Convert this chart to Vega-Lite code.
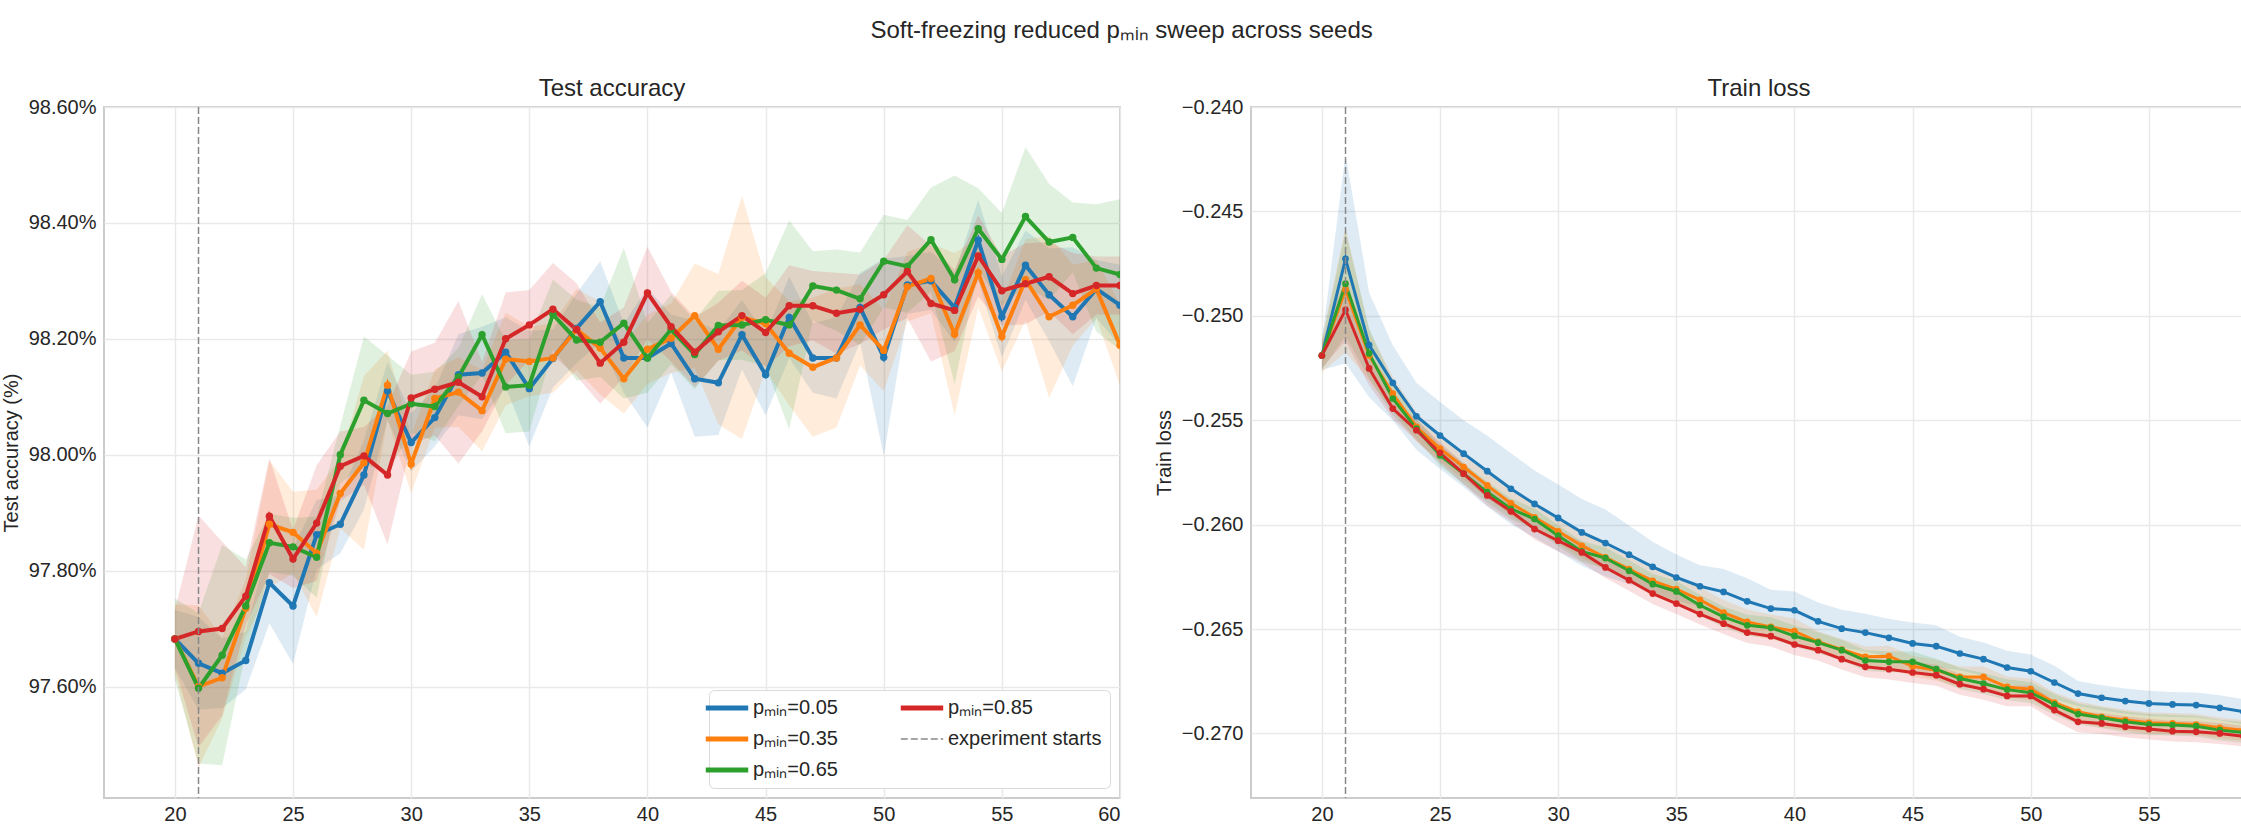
{
  "$schema": "https://vega.github.io/schema/vega-lite/v6.json",
  "background": "white",
  "padding": {"left": 0, "top": 19, "right": 0, "bottom": 0},
  "title": {"text": "Soft-freezing reduced pₘᵢₙ sweep across seeds", "anchor": "middle", "frame": "bounds", "baseline": "alphabetic", "offset": 14, "fontSize": 24},
  "spacing": 131,
  "bounds": "flush",
  "resolve": {"scale": {"color": "independent", "fill": "independent"}, "legend": {"color": "independent", "fill": "independent"}},
  "datasets": {
    "acc": [
      {"s":"0.05","e":20,"m":97.682,"lo":97.632,"hi":97.732},
      {"s":"0.05","e":21,"m":97.640,"lo":97.560,"hi":97.720},
      {"s":"0.05","e":22,"m":97.623,"lo":97.563,"hi":97.683},
      {"s":"0.05","e":23,"m":97.645,"lo":97.595,"hi":97.695},
      {"s":"0.05","e":24,"m":97.779,"lo":97.709,"hi":97.849},
      {"s":"0.05","e":25,"m":97.739,"lo":97.639,"hi":97.839},
      {"s":"0.05","e":26,"m":97.862,"lo":97.802,"hi":97.922},
      {"s":"0.05","e":27,"m":97.880,"lo":97.830,"hi":97.930},
      {"s":"0.05","e":28,"m":97.965,"lo":97.905,"hi":98.025},
      {"s":"0.05","e":29,"m":98.110,"lo":98.060,"hi":98.160},
      {"s":"0.05","e":30,"m":98.021,"lo":97.971,"hi":98.071},
      {"s":"0.05","e":31,"m":98.064,"lo":98.014,"hi":98.114},
      {"s":"0.05","e":32,"m":98.138,"lo":98.068,"hi":98.208},
      {"s":"0.05","e":33,"m":98.141,"lo":98.061,"hi":98.221},
      {"s":"0.05","e":34,"m":98.177,"lo":98.117,"hi":98.237},
      {"s":"0.05","e":35,"m":98.114,"lo":98.014,"hi":98.214},
      {"s":"0.05","e":36,"m":98.166,"lo":98.116,"hi":98.216},
      {"s":"0.05","e":37,"m":98.218,"lo":98.158,"hi":98.278},
      {"s":"0.05","e":38,"m":98.264,"lo":98.194,"hi":98.334},
      {"s":"0.05","e":39,"m":98.167,"lo":98.107,"hi":98.227},
      {"s":"0.05","e":40,"m":98.167,"lo":98.047,"hi":98.287},
      {"s":"0.05","e":41,"m":98.192,"lo":98.142,"hi":98.242},
      {"s":"0.05","e":42,"m":98.131,"lo":98.031,"hi":98.231},
      {"s":"0.05","e":43,"m":98.124,"lo":98.034,"hi":98.214},
      {"s":"0.05","e":44,"m":98.207,"lo":98.147,"hi":98.267},
      {"s":"0.05","e":45,"m":98.138,"lo":98.068,"hi":98.208},
      {"s":"0.05","e":46,"m":98.237,"lo":98.167,"hi":98.307},
      {"s":"0.05","e":47,"m":98.167,"lo":98.107,"hi":98.227},
      {"s":"0.05","e":48,"m":98.167,"lo":98.097,"hi":98.237},
      {"s":"0.05","e":49,"m":98.254,"lo":98.194,"hi":98.314},
      {"s":"0.05","e":50,"m":98.168,"lo":97.998,"hi":98.338},
      {"s":"0.05","e":51,"m":98.293,"lo":98.243,"hi":98.343},
      {"s":"0.05","e":52,"m":98.300,"lo":98.250,"hi":98.350},
      {"s":"0.05","e":53,"m":98.254,"lo":98.194,"hi":98.314},
      {"s":"0.05","e":54,"m":98.370,"lo":98.300,"hi":98.440},
      {"s":"0.05","e":55,"m":98.238,"lo":98.168,"hi":98.308},
      {"s":"0.05","e":56,"m":98.327,"lo":98.267,"hi":98.387},
      {"s":"0.05","e":57,"m":98.276,"lo":98.196,"hi":98.356},
      {"s":"0.05","e":58,"m":98.238,"lo":98.118,"hi":98.358},
      {"s":"0.05","e":59,"m":98.286,"lo":98.236,"hi":98.336},
      {"s":"0.05","e":60,"m":98.258,"lo":98.188,"hi":98.328},
      {"s":"0.35","e":20,"m":97.682,"lo":97.622,"hi":97.742},
      {"s":"0.35","e":21,"m":97.600,"lo":97.460,"hi":97.740},
      {"s":"0.35","e":22,"m":97.615,"lo":97.545,"hi":97.685},
      {"s":"0.35","e":23,"m":97.735,"lo":97.685,"hi":97.785},
      {"s":"0.35","e":24,"m":97.880,"lo":97.770,"hi":97.990},
      {"s":"0.35","e":25,"m":97.866,"lo":97.796,"hi":97.936},
      {"s":"0.35","e":26,"m":97.830,"lo":97.720,"hi":97.940},
      {"s":"0.35","e":27,"m":97.933,"lo":97.873,"hi":97.993},
      {"s":"0.35","e":28,"m":97.986,"lo":97.836,"hi":98.136},
      {"s":"0.35","e":29,"m":98.120,"lo":98.060,"hi":98.180},
      {"s":"0.35","e":30,"m":97.984,"lo":97.934,"hi":98.034},
      {"s":"0.35","e":31,"m":98.097,"lo":98.047,"hi":98.147},
      {"s":"0.35","e":32,"m":98.108,"lo":98.048,"hi":98.168},
      {"s":"0.35","e":33,"m":98.076,"lo":98.006,"hi":98.146},
      {"s":"0.35","e":34,"m":98.165,"lo":98.085,"hi":98.245},
      {"s":"0.35","e":35,"m":98.161,"lo":98.101,"hi":98.221},
      {"s":"0.35","e":36,"m":98.167,"lo":98.107,"hi":98.227},
      {"s":"0.35","e":37,"m":98.216,"lo":98.146,"hi":98.286},
      {"s":"0.35","e":38,"m":98.184,"lo":98.104,"hi":98.264},
      {"s":"0.35","e":39,"m":98.131,"lo":98.071,"hi":98.191},
      {"s":"0.35","e":40,"m":98.182,"lo":98.122,"hi":98.242},
      {"s":"0.35","e":41,"m":98.201,"lo":98.141,"hi":98.261},
      {"s":"0.35","e":42,"m":98.240,"lo":98.150,"hi":98.330},
      {"s":"0.35","e":43,"m":98.182,"lo":98.052,"hi":98.312},
      {"s":"0.35","e":44,"m":98.237,"lo":98.027,"hi":98.447},
      {"s":"0.35","e":45,"m":98.226,"lo":98.146,"hi":98.306},
      {"s":"0.35","e":46,"m":98.175,"lo":98.085,"hi":98.265},
      {"s":"0.35","e":47,"m":98.151,"lo":98.031,"hi":98.271},
      {"s":"0.35","e":48,"m":98.167,"lo":98.047,"hi":98.287},
      {"s":"0.35","e":49,"m":98.224,"lo":98.154,"hi":98.294},
      {"s":"0.35","e":50,"m":98.180,"lo":98.110,"hi":98.250},
      {"s":"0.35","e":51,"m":98.290,"lo":98.230,"hi":98.350},
      {"s":"0.35","e":52,"m":98.304,"lo":98.244,"hi":98.364},
      {"s":"0.35","e":53,"m":98.208,"lo":98.068,"hi":98.348},
      {"s":"0.35","e":54,"m":98.314,"lo":98.254,"hi":98.374},
      {"s":"0.35","e":55,"m":98.204,"lo":98.144,"hi":98.264},
      {"s":"0.35","e":56,"m":98.302,"lo":98.232,"hi":98.372},
      {"s":"0.35","e":57,"m":98.238,"lo":98.098,"hi":98.378},
      {"s":"0.35","e":58,"m":98.258,"lo":98.188,"hi":98.328},
      {"s":"0.35","e":59,"m":98.286,"lo":98.236,"hi":98.336},
      {"s":"0.35","e":60,"m":98.189,"lo":98.119,"hi":98.259},
      {"s":"0.65","e":20,"m":97.682,"lo":97.612,"hi":97.752},
      {"s":"0.65","e":21,"m":97.597,"lo":97.467,"hi":97.727},
      {"s":"0.65","e":22,"m":97.654,"lo":97.464,"hi":97.844},
      {"s":"0.65","e":23,"m":97.739,"lo":97.659,"hi":97.819},
      {"s":"0.65","e":24,"m":97.848,"lo":97.798,"hi":97.898},
      {"s":"0.65","e":25,"m":97.841,"lo":97.791,"hi":97.891},
      {"s":"0.65","e":26,"m":97.823,"lo":97.753,"hi":97.893},
      {"s":"0.65","e":27,"m":98.000,"lo":97.950,"hi":98.050},
      {"s":"0.65","e":28,"m":98.094,"lo":97.984,"hi":98.204},
      {"s":"0.65","e":29,"m":98.071,"lo":97.971,"hi":98.171},
      {"s":"0.65","e":30,"m":98.088,"lo":98.038,"hi":98.138},
      {"s":"0.65","e":31,"m":98.083,"lo":98.023,"hi":98.143},
      {"s":"0.65","e":32,"m":98.134,"lo":98.084,"hi":98.184},
      {"s":"0.65","e":33,"m":98.207,"lo":98.137,"hi":98.277},
      {"s":"0.65","e":34,"m":98.117,"lo":98.037,"hi":98.197},
      {"s":"0.65","e":35,"m":98.120,"lo":98.040,"hi":98.200},
      {"s":"0.65","e":36,"m":98.242,"lo":98.182,"hi":98.302},
      {"s":"0.65","e":37,"m":98.198,"lo":98.128,"hi":98.268},
      {"s":"0.65","e":38,"m":98.194,"lo":98.134,"hi":98.254},
      {"s":"0.65","e":39,"m":98.227,"lo":98.097,"hi":98.357},
      {"s":"0.65","e":40,"m":98.167,"lo":98.107,"hi":98.227},
      {"s":"0.65","e":41,"m":98.216,"lo":98.156,"hi":98.276},
      {"s":"0.65","e":42,"m":98.173,"lo":98.113,"hi":98.233},
      {"s":"0.65","e":43,"m":98.223,"lo":98.163,"hi":98.283},
      {"s":"0.65","e":44,"m":98.224,"lo":98.164,"hi":98.284},
      {"s":"0.65","e":45,"m":98.233,"lo":98.153,"hi":98.313},
      {"s":"0.65","e":46,"m":98.224,"lo":98.044,"hi":98.404},
      {"s":"0.65","e":47,"m":98.291,"lo":98.231,"hi":98.351},
      {"s":"0.65","e":48,"m":98.284,"lo":98.214,"hi":98.354},
      {"s":"0.65","e":49,"m":98.269,"lo":98.189,"hi":98.349},
      {"s":"0.65","e":50,"m":98.334,"lo":98.254,"hi":98.414},
      {"s":"0.65","e":51,"m":98.325,"lo":98.245,"hi":98.405},
      {"s":"0.65","e":52,"m":98.371,"lo":98.281,"hi":98.461},
      {"s":"0.65","e":53,"m":98.302,"lo":98.122,"hi":98.482},
      {"s":"0.65","e":54,"m":98.390,"lo":98.320,"hi":98.460},
      {"s":"0.65","e":55,"m":98.337,"lo":98.257,"hi":98.417},
      {"s":"0.65","e":56,"m":98.411,"lo":98.291,"hi":98.531},
      {"s":"0.65","e":57,"m":98.367,"lo":98.267,"hi":98.467},
      {"s":"0.65","e":58,"m":98.375,"lo":98.315,"hi":98.435},
      {"s":"0.65","e":59,"m":98.322,"lo":98.212,"hi":98.432},
      {"s":"0.65","e":60,"m":98.311,"lo":98.181,"hi":98.441},
      {"s":"0.85","e":20,"m":97.682,"lo":97.632,"hi":97.732},
      {"s":"0.85","e":21,"m":97.695,"lo":97.495,"hi":97.895},
      {"s":"0.85","e":22,"m":97.700,"lo":97.550,"hi":97.850},
      {"s":"0.85","e":23,"m":97.756,"lo":97.706,"hi":97.806},
      {"s":"0.85","e":24,"m":97.894,"lo":97.794,"hi":97.994},
      {"s":"0.85","e":25,"m":97.820,"lo":97.770,"hi":97.870},
      {"s":"0.85","e":26,"m":97.882,"lo":97.782,"hi":97.982},
      {"s":"0.85","e":27,"m":97.980,"lo":97.920,"hi":98.040},
      {"s":"0.85","e":28,"m":97.998,"lo":97.948,"hi":98.048},
      {"s":"0.85","e":29,"m":97.965,"lo":97.845,"hi":98.085},
      {"s":"0.85","e":30,"m":98.098,"lo":98.018,"hi":98.178},
      {"s":"0.85","e":31,"m":98.113,"lo":98.033,"hi":98.193},
      {"s":"0.85","e":32,"m":98.125,"lo":97.985,"hi":98.265},
      {"s":"0.85","e":33,"m":98.100,"lo":98.040,"hi":98.160},
      {"s":"0.85","e":34,"m":98.200,"lo":98.120,"hi":98.280},
      {"s":"0.85","e":35,"m":98.224,"lo":98.164,"hi":98.284},
      {"s":"0.85","e":36,"m":98.251,"lo":98.171,"hi":98.331},
      {"s":"0.85","e":37,"m":98.216,"lo":98.136,"hi":98.296},
      {"s":"0.85","e":38,"m":98.158,"lo":98.088,"hi":98.228},
      {"s":"0.85","e":39,"m":98.194,"lo":98.134,"hi":98.254},
      {"s":"0.85","e":40,"m":98.279,"lo":98.199,"hi":98.359},
      {"s":"0.85","e":41,"m":98.221,"lo":98.161,"hi":98.281},
      {"s":"0.85","e":42,"m":98.177,"lo":98.117,"hi":98.237},
      {"s":"0.85","e":43,"m":98.212,"lo":98.162,"hi":98.262},
      {"s":"0.85","e":44,"m":98.240,"lo":98.180,"hi":98.300},
      {"s":"0.85","e":45,"m":98.211,"lo":98.151,"hi":98.271},
      {"s":"0.85","e":46,"m":98.257,"lo":98.187,"hi":98.327},
      {"s":"0.85","e":47,"m":98.257,"lo":98.197,"hi":98.317},
      {"s":"0.85","e":48,"m":98.244,"lo":98.174,"hi":98.314},
      {"s":"0.85","e":49,"m":98.251,"lo":98.191,"hi":98.311},
      {"s":"0.85","e":50,"m":98.276,"lo":98.216,"hi":98.336},
      {"s":"0.85","e":51,"m":98.316,"lo":98.236,"hi":98.396},
      {"s":"0.85","e":52,"m":98.261,"lo":98.161,"hi":98.361},
      {"s":"0.85","e":53,"m":98.249,"lo":98.179,"hi":98.319},
      {"s":"0.85","e":54,"m":98.343,"lo":98.273,"hi":98.413},
      {"s":"0.85","e":55,"m":98.283,"lo":98.223,"hi":98.343},
      {"s":"0.85","e":56,"m":98.295,"lo":98.225,"hi":98.365},
      {"s":"0.85","e":57,"m":98.307,"lo":98.247,"hi":98.367},
      {"s":"0.85","e":58,"m":98.278,"lo":98.208,"hi":98.348},
      {"s":"0.85","e":59,"m":98.292,"lo":98.242,"hi":98.342},
      {"s":"0.85","e":60,"m":98.292,"lo":98.242,"hi":98.342}
    ],
    "loss": [
      {"s":"0.05","e":20,"m":-0.2519,"lo":-0.2526,"hi":-0.2512},
      {"s":"0.05","e":21,"m":-0.24727,"lo":-0.25227,"hi":-0.24227},
      {"s":"0.05","e":22,"m":-0.2514,"lo":-0.2539,"hi":-0.2489},
      {"s":"0.05","e":23,"m":-0.25321,"lo":-0.25501,"hi":-0.25141},
      {"s":"0.05","e":24,"m":-0.25481,"lo":-0.25641,"hi":-0.25321},
      {"s":"0.05","e":25,"m":-0.25573,"lo":-0.25733,"hi":-0.25413},
      {"s":"0.05","e":26,"m":-0.2566,"lo":-0.2582,"hi":-0.255},
      {"s":"0.05","e":27,"m":-0.25744,"lo":-0.25914,"hi":-0.25574},
      {"s":"0.05","e":28,"m":-0.25828,"lo":-0.25998,"hi":-0.25658},
      {"s":"0.05","e":29,"m":-0.25901,"lo":-0.26061,"hi":-0.25741},
      {"s":"0.05","e":30,"m":-0.25968,"lo":-0.26128,"hi":-0.25808},
      {"s":"0.05","e":31,"m":-0.26037,"lo":-0.26197,"hi":-0.25877},
      {"s":"0.05","e":32,"m":-0.26088,"lo":-0.26248,"hi":-0.25928},
      {"s":"0.05","e":33,"m":-0.26144,"lo":-0.26284,"hi":-0.26004},
      {"s":"0.05","e":34,"m":-0.26202,"lo":-0.26322,"hi":-0.26082},
      {"s":"0.05","e":35,"m":-0.26253,"lo":-0.26363,"hi":-0.26143},
      {"s":"0.05","e":36,"m":-0.26295,"lo":-0.26395,"hi":-0.26195},
      {"s":"0.05","e":37,"m":-0.26322,"lo":-0.26432,"hi":-0.26212},
      {"s":"0.05","e":38,"m":-0.26367,"lo":-0.26477,"hi":-0.26257},
      {"s":"0.05","e":39,"m":-0.26402,"lo":-0.26492,"hi":-0.26312},
      {"s":"0.05","e":40,"m":-0.2641,"lo":-0.265,"hi":-0.2632},
      {"s":"0.05","e":41,"m":-0.26463,"lo":-0.26553,"hi":-0.26373},
      {"s":"0.05","e":42,"m":-0.26498,"lo":-0.26588,"hi":-0.26408},
      {"s":"0.05","e":43,"m":-0.26517,"lo":-0.26607,"hi":-0.26427},
      {"s":"0.05","e":44,"m":-0.26542,"lo":-0.26632,"hi":-0.26452},
      {"s":"0.05","e":45,"m":-0.26569,"lo":-0.26669,"hi":-0.26469},
      {"s":"0.05","e":46,"m":-0.26582,"lo":-0.26682,"hi":-0.26482},
      {"s":"0.05","e":47,"m":-0.26617,"lo":-0.26697,"hi":-0.26537},
      {"s":"0.05","e":48,"m":-0.26644,"lo":-0.26724,"hi":-0.26564},
      {"s":"0.05","e":49,"m":-0.26684,"lo":-0.26764,"hi":-0.26604},
      {"s":"0.05","e":50,"m":-0.26702,"lo":-0.26782,"hi":-0.26622},
      {"s":"0.05","e":51,"m":-0.26756,"lo":-0.26836,"hi":-0.26676},
      {"s":"0.05","e":52,"m":-0.26809,"lo":-0.26869,"hi":-0.26749},
      {"s":"0.05","e":53,"m":-0.26829,"lo":-0.26889,"hi":-0.26769},
      {"s":"0.05","e":54,"m":-0.26845,"lo":-0.26905,"hi":-0.26785},
      {"s":"0.05","e":55,"m":-0.26856,"lo":-0.26916,"hi":-0.26796},
      {"s":"0.05","e":56,"m":-0.26861,"lo":-0.26921,"hi":-0.26801},
      {"s":"0.05","e":57,"m":-0.26864,"lo":-0.26924,"hi":-0.26804},
      {"s":"0.05","e":58,"m":-0.26877,"lo":-0.26937,"hi":-0.26817},
      {"s":"0.05","e":59,"m":-0.26896,"lo":-0.26956,"hi":-0.26836},
      {"s":"0.05","e":60,"m":-0.2691,"lo":-0.2697,"hi":-0.2685},
      {"s":"0.35","e":20,"m":-0.2519,"lo":-0.2527,"hi":-0.2511},
      {"s":"0.35","e":21,"m":-0.24875,"lo":-0.25175,"hi":-0.24575},
      {"s":"0.35","e":22,"m":-0.2519,"lo":-0.2531,"hi":-0.2507},
      {"s":"0.35","e":23,"m":-0.25372,"lo":-0.25452,"hi":-0.25292},
      {"s":"0.35","e":24,"m":-0.25532,"lo":-0.25602,"hi":-0.25462},
      {"s":"0.35","e":25,"m":-0.25636,"lo":-0.25696,"hi":-0.25576},
      {"s":"0.35","e":26,"m":-0.25724,"lo":-0.25784,"hi":-0.25664},
      {"s":"0.35","e":27,"m":-0.25812,"lo":-0.25872,"hi":-0.25752},
      {"s":"0.35","e":28,"m":-0.25898,"lo":-0.25958,"hi":-0.25838},
      {"s":"0.35","e":29,"m":-0.25965,"lo":-0.26025,"hi":-0.25905},
      {"s":"0.35","e":30,"m":-0.26032,"lo":-0.26092,"hi":-0.25972},
      {"s":"0.35","e":31,"m":-0.26101,"lo":-0.26161,"hi":-0.26041},
      {"s":"0.35","e":32,"m":-0.26157,"lo":-0.26217,"hi":-0.26097},
      {"s":"0.35","e":33,"m":-0.26213,"lo":-0.26273,"hi":-0.26153},
      {"s":"0.35","e":34,"m":-0.26269,"lo":-0.26329,"hi":-0.26209},
      {"s":"0.35","e":35,"m":-0.26309,"lo":-0.26369,"hi":-0.26249},
      {"s":"0.35","e":36,"m":-0.2636,"lo":-0.2642,"hi":-0.263},
      {"s":"0.35","e":37,"m":-0.26421,"lo":-0.26481,"hi":-0.26361},
      {"s":"0.35","e":38,"m":-0.26466,"lo":-0.26526,"hi":-0.26406},
      {"s":"0.35","e":39,"m":-0.2649,"lo":-0.2655,"hi":-0.2643},
      {"s":"0.35","e":40,"m":-0.2651,"lo":-0.2657,"hi":-0.2645},
      {"s":"0.35","e":41,"m":-0.26561,"lo":-0.26611,"hi":-0.26511},
      {"s":"0.35","e":42,"m":-0.26598,"lo":-0.26648,"hi":-0.26548},
      {"s":"0.35","e":43,"m":-0.26633,"lo":-0.26683,"hi":-0.26583},
      {"s":"0.35","e":44,"m":-0.2663,"lo":-0.2668,"hi":-0.2658},
      {"s":"0.35","e":45,"m":-0.26678,"lo":-0.26728,"hi":-0.26628},
      {"s":"0.35","e":46,"m":-0.26697,"lo":-0.26747,"hi":-0.26647},
      {"s":"0.35","e":47,"m":-0.26729,"lo":-0.26779,"hi":-0.26679},
      {"s":"0.35","e":48,"m":-0.26729,"lo":-0.26779,"hi":-0.26679},
      {"s":"0.35","e":49,"m":-0.26777,"lo":-0.26827,"hi":-0.26727},
      {"s":"0.35","e":50,"m":-0.26788,"lo":-0.26838,"hi":-0.26738},
      {"s":"0.35","e":51,"m":-0.26852,"lo":-0.26902,"hi":-0.26802},
      {"s":"0.35","e":52,"m":-0.26896,"lo":-0.26946,"hi":-0.26846},
      {"s":"0.35","e":53,"m":-0.2692,"lo":-0.2697,"hi":-0.2687},
      {"s":"0.35","e":54,"m":-0.26936,"lo":-0.26986,"hi":-0.26886},
      {"s":"0.35","e":55,"m":-0.26949,"lo":-0.26999,"hi":-0.26899},
      {"s":"0.35","e":56,"m":-0.26952,"lo":-0.27002,"hi":-0.26902},
      {"s":"0.35","e":57,"m":-0.26957,"lo":-0.27007,"hi":-0.26907},
      {"s":"0.35","e":58,"m":-0.26973,"lo":-0.27023,"hi":-0.26923},
      {"s":"0.35","e":59,"m":-0.26985,"lo":-0.27035,"hi":-0.26935},
      {"s":"0.35","e":60,"m":-0.26995,"lo":-0.27045,"hi":-0.26945},
      {"s":"0.65","e":20,"m":-0.2519,"lo":-0.2526,"hi":-0.2512},
      {"s":"0.65","e":21,"m":-0.24846,"lo":-0.25096,"hi":-0.24596},
      {"s":"0.65","e":22,"m":-0.2518,"lo":-0.253,"hi":-0.2506},
      {"s":"0.65","e":23,"m":-0.25396,"lo":-0.25476,"hi":-0.25316},
      {"s":"0.65","e":24,"m":-0.2554,"lo":-0.2559,"hi":-0.2549},
      {"s":"0.65","e":25,"m":-0.25668,"lo":-0.25718,"hi":-0.25618},
      {"s":"0.65","e":26,"m":-0.25756,"lo":-0.25806,"hi":-0.25706},
      {"s":"0.65","e":27,"m":-0.25844,"lo":-0.25894,"hi":-0.25794},
      {"s":"0.65","e":28,"m":-0.25924,"lo":-0.25974,"hi":-0.25874},
      {"s":"0.65","e":29,"m":-0.25973,"lo":-0.26023,"hi":-0.25923},
      {"s":"0.65","e":30,"m":-0.26053,"lo":-0.26103,"hi":-0.26003},
      {"s":"0.65","e":31,"m":-0.26128,"lo":-0.26178,"hi":-0.26078},
      {"s":"0.65","e":32,"m":-0.2616,"lo":-0.2621,"hi":-0.2611},
      {"s":"0.65","e":33,"m":-0.26221,"lo":-0.26271,"hi":-0.26171},
      {"s":"0.65","e":34,"m":-0.26285,"lo":-0.26335,"hi":-0.26235},
      {"s":"0.65","e":35,"m":-0.2632,"lo":-0.2637,"hi":-0.2627},
      {"s":"0.65","e":36,"m":-0.26386,"lo":-0.26436,"hi":-0.26336},
      {"s":"0.65","e":37,"m":-0.26442,"lo":-0.26492,"hi":-0.26392},
      {"s":"0.65","e":38,"m":-0.26482,"lo":-0.26532,"hi":-0.26432},
      {"s":"0.65","e":39,"m":-0.26494,"lo":-0.26544,"hi":-0.26444},
      {"s":"0.65","e":40,"m":-0.26533,"lo":-0.26583,"hi":-0.26483},
      {"s":"0.65","e":41,"m":-0.26565,"lo":-0.26615,"hi":-0.26515},
      {"s":"0.65","e":42,"m":-0.26601,"lo":-0.26651,"hi":-0.26551},
      {"s":"0.65","e":43,"m":-0.26651,"lo":-0.26701,"hi":-0.26601},
      {"s":"0.65","e":44,"m":-0.26657,"lo":-0.26707,"hi":-0.26607},
      {"s":"0.65","e":45,"m":-0.26657,"lo":-0.26707,"hi":-0.26607},
      {"s":"0.65","e":46,"m":-0.26692,"lo":-0.26742,"hi":-0.26642},
      {"s":"0.65","e":47,"m":-0.26737,"lo":-0.26787,"hi":-0.26687},
      {"s":"0.65","e":48,"m":-0.26761,"lo":-0.26811,"hi":-0.26711},
      {"s":"0.65","e":49,"m":-0.2679,"lo":-0.2684,"hi":-0.2674},
      {"s":"0.65","e":50,"m":-0.26805,"lo":-0.26855,"hi":-0.26755},
      {"s":"0.65","e":51,"m":-0.26861,"lo":-0.26911,"hi":-0.26811},
      {"s":"0.65","e":52,"m":-0.26907,"lo":-0.26957,"hi":-0.26857},
      {"s":"0.65","e":53,"m":-0.26925,"lo":-0.26975,"hi":-0.26875},
      {"s":"0.65","e":54,"m":-0.26944,"lo":-0.26994,"hi":-0.26894},
      {"s":"0.65","e":55,"m":-0.26957,"lo":-0.27007,"hi":-0.26907},
      {"s":"0.65","e":56,"m":-0.2696,"lo":-0.2701,"hi":-0.2691},
      {"s":"0.65","e":57,"m":-0.26965,"lo":-0.27015,"hi":-0.26915},
      {"s":"0.65","e":58,"m":-0.26984,"lo":-0.27034,"hi":-0.26934},
      {"s":"0.65","e":59,"m":-0.26995,"lo":-0.27045,"hi":-0.26945},
      {"s":"0.65","e":60,"m":-0.27005,"lo":-0.27055,"hi":-0.26955},
      {"s":"0.85","e":20,"m":-0.2519,"lo":-0.2525,"hi":-0.2513},
      {"s":"0.85","e":21,"m":-0.24971,"lo":-0.25121,"hi":-0.24821},
      {"s":"0.85","e":22,"m":-0.25252,"lo":-0.25332,"hi":-0.25172},
      {"s":"0.85","e":23,"m":-0.25444,"lo":-0.25494,"hi":-0.25394},
      {"s":"0.85","e":24,"m":-0.25548,"lo":-0.25598,"hi":-0.25498},
      {"s":"0.85","e":25,"m":-0.25656,"lo":-0.25706,"hi":-0.25606},
      {"s":"0.85","e":26,"m":-0.25756,"lo":-0.25806,"hi":-0.25706},
      {"s":"0.85","e":27,"m":-0.2586,"lo":-0.2591,"hi":-0.2581},
      {"s":"0.85","e":28,"m":-0.25936,"lo":-0.25986,"hi":-0.25886},
      {"s":"0.85","e":29,"m":-0.26021,"lo":-0.26071,"hi":-0.25971},
      {"s":"0.85","e":30,"m":-0.26077,"lo":-0.26127,"hi":-0.26027},
      {"s":"0.85","e":31,"m":-0.26133,"lo":-0.26183,"hi":-0.26083},
      {"s":"0.85","e":32,"m":-0.26205,"lo":-0.26255,"hi":-0.26155},
      {"s":"0.85","e":33,"m":-0.26266,"lo":-0.26316,"hi":-0.26216},
      {"s":"0.85","e":34,"m":-0.2633,"lo":-0.2638,"hi":-0.2628},
      {"s":"0.85","e":35,"m":-0.26378,"lo":-0.26428,"hi":-0.26328},
      {"s":"0.85","e":36,"m":-0.26428,"lo":-0.26478,"hi":-0.26378},
      {"s":"0.85","e":37,"m":-0.26474,"lo":-0.26524,"hi":-0.26424},
      {"s":"0.85","e":38,"m":-0.26517,"lo":-0.26567,"hi":-0.26467},
      {"s":"0.85","e":39,"m":-0.26534,"lo":-0.26584,"hi":-0.26484},
      {"s":"0.85","e":40,"m":-0.26574,"lo":-0.26624,"hi":-0.26524},
      {"s":"0.85","e":41,"m":-0.26601,"lo":-0.26651,"hi":-0.26551},
      {"s":"0.85","e":42,"m":-0.26644,"lo":-0.26694,"hi":-0.26594},
      {"s":"0.85","e":43,"m":-0.26681,"lo":-0.26731,"hi":-0.26631},
      {"s":"0.85","e":44,"m":-0.26692,"lo":-0.26742,"hi":-0.26642},
      {"s":"0.85","e":45,"m":-0.26708,"lo":-0.26758,"hi":-0.26658},
      {"s":"0.85","e":46,"m":-0.26721,"lo":-0.26771,"hi":-0.26671},
      {"s":"0.85","e":47,"m":-0.26764,"lo":-0.26814,"hi":-0.26714},
      {"s":"0.85","e":48,"m":-0.26788,"lo":-0.26838,"hi":-0.26738},
      {"s":"0.85","e":49,"m":-0.2682,"lo":-0.2687,"hi":-0.2677},
      {"s":"0.85","e":50,"m":-0.2682,"lo":-0.2687,"hi":-0.2677},
      {"s":"0.85","e":51,"m":-0.26888,"lo":-0.26938,"hi":-0.26838},
      {"s":"0.85","e":52,"m":-0.26944,"lo":-0.26994,"hi":-0.26894},
      {"s":"0.85","e":53,"m":-0.26952,"lo":-0.27002,"hi":-0.26902},
      {"s":"0.85","e":54,"m":-0.26968,"lo":-0.27018,"hi":-0.26918},
      {"s":"0.85","e":55,"m":-0.26979,"lo":-0.27029,"hi":-0.26929},
      {"s":"0.85","e":56,"m":-0.26989,"lo":-0.27039,"hi":-0.26939},
      {"s":"0.85","e":57,"m":-0.26992,"lo":-0.27042,"hi":-0.26942},
      {"s":"0.85","e":58,"m":-0.27,"lo":-0.2705,"hi":-0.2695},
      {"s":"0.85","e":59,"m":-0.27013,"lo":-0.27063,"hi":-0.26963},
      {"s":"0.85","e":60,"m":-0.2702,"lo":-0.2707,"hi":-0.2697}
    ]
  },
  "hconcat": [
    {
      "width": 1016,
      "height": 691,
      "title": {"text": "Test accuracy", "anchor": "middle", "frame": "group", "baseline": "alphabetic", "offset": -23},
      "layer": [
        {
          "data": {"name": "acc"},
          "mark": {"type": "area", "fillOpacity": 0.15, "clip": true},
          "encoding": {
            "x": {"field": "e", "type": "quantitative", "scale": {"domain": [17, 60], "nice": false, "zero": false}, "axis": {"title": null, "values": [20, 25, 30, 35, 40, 45, 50, 55, 60]}},
            "y": {"field": "lo", "type": "quantitative", "scale": {"domain": [97.4076, 98.6], "nice": false, "zero": false}, "axis": {"title": "Test accuracy (%)", "values": [97.6, 97.8, 98.0, 98.2, 98.4, 98.6], "labelExpr": "format(datum.value, '.2f') + '%'"}},
            "y2": {"field": "hi"},
            "fill": {"field": "s", "type": "nominal", "scale": {"domain": ["0.05", "0.35", "0.65", "0.85"], "range": ["#1f77b4", "#ff7f0e", "#2ca02c", "#d62728"]}, "legend": null}
          }
        },
        {
          "data": {"name": "acc"},
          "mark": {"type": "line", "strokeWidth": 4, "clip": true},
          "encoding": {
            "x": {"field": "e", "type": "quantitative"},
            "y": {"field": "m", "type": "quantitative", "axis": {"title": "Test accuracy (%)"}},
            "color": {
              "field": "s", "type": "nominal",
              "scale": {"domain": ["0.05", "0.35", "0.65", "0.85", "experiment starts"], "range": ["#1f77b4", "#ff7f0e", "#2ca02c", "#d62728", "#888888"]},
              "legend": {
                "title": null, "orient": "bottom-right", "offset": 10, "columns": 2,
                "symbolType": "stroke", "symbolSize": 1800, "symbolStrokeWidth": 5,
                "labelFontSize": 20, "labelFont": "Liberation Sans", "labelColor": "#262626", "labelLimit": 400,
                "labelOffset": 16, "columnPadding": 52, "rowPadding": 11, "padding": 8,
                "strokeColor": "#d9d9d9", "fillColor": "#ffffff", "cornerRadius": 5,
                "labelExpr": "datum.value === 'experiment starts' ? 'experiment starts' : 'pₘᵢₙ=' + datum.value",
                "encode": {"symbols": {"update": {
                  "strokeDash": {"signal": "datum.value === 'experiment starts' ? [7, 3] : [1, 0]"},
                  "strokeWidth": {"signal": "datum.value === 'experiment starts' ? 1.5 : 5"}
                }}}
              }
            }
          }
        },
        {
          "data": {"name": "acc"},
          "mark": {"type": "circle", "size": 55, "opacity": 1, "clip": true},
          "encoding": {
            "x": {"field": "e", "type": "quantitative"},
            "y": {"field": "m", "type": "quantitative", "axis": {"title": "Test accuracy (%)"}},
            "color": {"field": "s", "type": "nominal"}
          }
        },
        {
          "data": {"values": [{"e": 21, "s": "experiment starts"}]},
          "mark": {"type": "rule", "strokeDash": [7, 3], "strokeWidth": 1.5},
          "encoding": {
            "x": {"field": "e", "type": "quantitative"},
            "color": {"field": "s", "type": "nominal"}
          }
        }
      ]
    },
    {
      "width": 991,
      "height": 691,
      "title": {"text": "Train loss", "anchor": "middle", "frame": "group", "baseline": "alphabetic", "offset": -23, "dx": 12.5},
      "layer": [
        {
          "data": {"name": "loss"},
          "mark": {"type": "area", "fillOpacity": 0.15, "clip": true},
          "encoding": {
            "x": {"field": "e", "type": "quantitative", "scale": {"domain": [17, 58.94], "nice": false, "zero": false}, "axis": {"title": null, "values": [20, 25, 30, 35, 40, 45, 50, 55]}},
            "y": {"field": "lo", "type": "quantitative", "scale": {"domain": [-0.27309, -0.24], "nice": false, "zero": false}, "axis": {"title": "Train loss", "values": [-0.27, -0.265, -0.26, -0.255, -0.25, -0.245, -0.24], "format": ".3f"}},
            "y2": {"field": "hi"},
            "fill": {"field": "s", "type": "nominal", "scale": {"domain": ["0.05", "0.35", "0.65", "0.85"], "range": ["#1f77b4", "#ff7f0e", "#2ca02c", "#d62728"]}, "legend": null}
          }
        },
        {
          "data": {"name": "loss"},
          "mark": {"type": "line", "strokeWidth": 3, "clip": true},
          "encoding": {
            "x": {"field": "e", "type": "quantitative"},
            "y": {"field": "m", "type": "quantitative", "axis": {"title": "Train loss"}},
            "color": {
              "field": "s", "type": "nominal",
              "scale": {"domain": ["0.05", "0.35", "0.65", "0.85", "experiment starts"], "range": ["#1f77b4", "#ff7f0e", "#2ca02c", "#d62728", "#888888"]},
              "legend": null
            }
          }
        },
        {
          "data": {"name": "loss"},
          "mark": {"type": "circle", "size": 45, "opacity": 1, "clip": true},
          "encoding": {
            "x": {"field": "e", "type": "quantitative"},
            "y": {"field": "m", "type": "quantitative", "axis": {"title": "Train loss"}},
            "color": {"field": "s", "type": "nominal", "legend": null}
          }
        },
        {
          "data": {"values": [{"e": 21, "s": "experiment starts"}]},
          "mark": {"type": "rule", "strokeDash": [7, 3], "strokeWidth": 1.5},
          "encoding": {
            "x": {"field": "e", "type": "quantitative"},
            "color": {"field": "s", "type": "nominal", "legend": null}
          }
        }
      ]
    }
  ],
  "config": {
    "font": "Liberation Sans",
    "view": {"stroke": "#cccccc", "strokeWidth": 2},
    "axis": {
      "domain": false, "ticks": false, "tickSize": 0,
      "grid": true, "gridColor": "#e9e9e9", "gridWidth": 1.5,
      "labelFont": "Liberation Sans", "labelFontSize": 20, "labelColor": "#262626",
      "titleFont": "Liberation Sans", "titleFontSize": 20, "titleFontWeight": "normal", "titleColor": "#262626"
    },
    "axisX": {"labelPadding": 6},
    "axisY": {"labelPadding": 8, "titlePadding": 7},
    "title": {"font": "Liberation Sans", "fontSize": 24, "fontWeight": "normal", "color": "#262626"}
  }
}
